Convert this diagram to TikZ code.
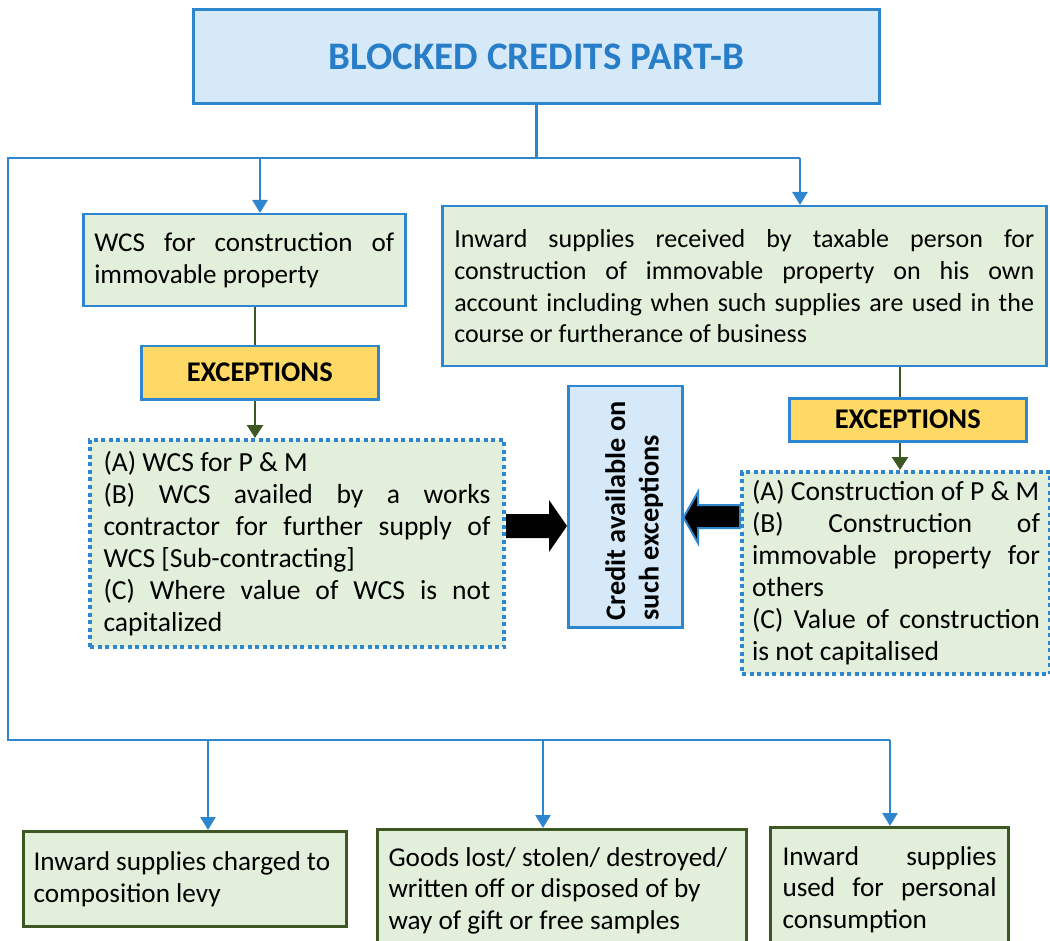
\documentclass[tikz,border=0pt]{standalone}
\usepackage{fontspec}
\setmainfont{Carlito}
\usetikzlibrary{arrows.meta,calc}
\definecolor{bblue}{RGB}{46,134,206}
\definecolor{tblue}{RGB}{40,125,200}
\definecolor{lbfill}{RGB}{214,233,248}
\definecolor{gfill}{RGB}{226,239,218}
\definecolor{yfill}{RGB}{255,217,102}
\definecolor{dgreen}{RGB}{62,88,35}
\newcommand\myBody{\fontsize{27.6}{32}\selectfont}
\newcommand\myBot{\fontsize{27.2}{31.5}\selectfont}
\newcommand\myWcs{\fontsize{27.1}{32}\selectfont}
\newcommand\myInw{\fontsize{26}{31.7}\selectfont}
\newcommand\myTitle{\fontsize{39}{46}\selectfont\bfseries}
\newcommand\myExc{\fontsize{28.5}{34}\selectfont\bfseries}
\newcommand\myCred{\fontsize{28.3}{33.5}\selectfont\bfseries}
\pgfdeclarelayer{bg}
\pgfsetlayers{bg,main}
\begin{document}
\hyphenpenalty=10000 \exhyphenpenalty=10000
\begin{tikzpicture}[x=1pt,y=-1pt,
  gbox/.style={draw=bblue, line width=2.5pt, fill=gfill, anchor=north west,
    inner ysep=0pt, font=\myBody, align=justify},
  dbox/.style={gbox, line width=4pt, dash pattern=on 4pt off 3.5pt},
  botbox/.style={gbox, draw=dgreen, line width=3pt, font=\myBot},
  ybox/.style={draw=bblue, line width=2.5pt, fill=yfill, anchor=north west,
    inner sep=0pt, font=\myExc, align=center},
  bline/.style={draw=bblue, line width=2.5pt},
  barrow/.style={bline, -{Triangle[length=13pt,width=15pt]}},
  gline/.style={draw=dgreen, line width=2.5pt},
  garrow/.style={gline, -{Triangle[length=13pt,width=16pt]}}]
\useasboundingbox (0,0) rectangle (1050,941);

% title
\node[draw=bblue, line width=3pt, fill=lbfill, anchor=north west,
  minimum width=686pt, minimum height=94pt, inner sep=0pt,
  font=\myTitle, text=tblue] (title) at (192,8) {BLOCKED CREDITS PART-B};

% upper boxes
\node[gbox, font=\myWcs, text width=300pt, inner xsep=11pt, minimum width=322pt,
  minimum height=92pt] (wcs) at (82,213)
  {WCS for construction of \linebreak immovable property};
\node[gbox, font=\myInw, text width=580pt, inner xsep=12pt, minimum width=604pt,
  minimum height=160pt] (inward) at (441,205)
  {Inward supplies received by taxable person for \linebreak construction of immovable property on his own \linebreak account including when such supplies are used in the \linebreak course or furtherance of business};

\node[ybox, minimum width=237pt, minimum height=53pt] (exc1) at (140,345) {EXCEPTIONS};
\node[ybox, minimum width=237pt, minimum height=43pt] (exc2) at (788,397) {EXCEPTIONS};

\node[dbox, text width=387pt, inner xsep=13.5pt, minimum width=414pt,
  minimum height=207pt] (dot1) at (88,438)
  {(A) WCS for P \& M\par
   (B) WCS availed by a works \linebreak contractor for further supply of \linebreak WCS [Sub-contracting]\par
   (C) Where value of WCS is not \linebreak capitalized};
\node[dbox, text width=288pt, inner xsep=10pt, minimum width=308pt,
  minimum height=202pt] (dot2) at (740,470)
  {(A) Construction of P \& M\par
   (B) Construction of \linebreak immovable property for \linebreak others\par
   (C) Value of construction \linebreak is not capitalised};

% credit box
\node[draw=bblue, line width=2.5pt, fill=lbfill, anchor=north west,
  minimum width=114pt, minimum height=241pt, inner sep=0pt] (credit) at (567,385) {};
\node[rotate=90, font=\myCred, align=left, inner sep=0pt, anchor=west] (credtxt)
  at ($(credit.south)+(9,-8)$)
  {Credit available on\\such exceptions};

% bottom boxes
\node[botbox, align=flush left, text width=303pt, inner xsep=10pt, minimum width=323pt,
  minimum height=95pt] (b1) at (22,830)
  {Inward supplies charged to\\composition levy};
\node[botbox, align=flush left, text width=347pt, inner xsep=11pt, minimum width=369pt,
  minimum height=122pt] (b2) at (376,828)
  {Goods lost/ stolen/ destroyed/\\written off or disposed of by\\way of gift or free samples};
\node[botbox, text width=214pt, inner xsep=12pt, minimum width=238pt,
  minimum height=124pt] (b3) at (769,826)
  {Inward supplies \linebreak used for personal \linebreak consumption};

% coordinates
\coordinate (cL) at (8,158);
\coordinate (cR) at (800,158);
\coordinate (cA) at (260,158);
\coordinate (bL) at (8,740);
\coordinate (bR) at (890,740);
\coordinate (b1x) at (208,740);
\coordinate (b2x) at (543,740);
\coordinate (gxl) at (255,0);
\coordinate (gxr) at (900,0);

% blue connectors
\draw[bline] (title.south) -- (title.south |- cL);
\draw[bline] (cR) -- (cL) -- (bL) -- (bR);
\draw[barrow] (cA) -- (cA |- wcs.north);
\draw[barrow] (cR) -- (cR |- inward.north);
\draw[barrow] (b1x) -- (b1x |- b1.north);
\draw[barrow] (b2x) -- (b2x |- b2.north);
\draw[barrow] (bR) -- (bR |- b3.north);

% green connectors
\draw[gline] (gxl |- wcs.south) -- (gxl |- exc1.north);
\draw[garrow] (gxl |- exc1.south) -- (gxl |- dot1.north);
\draw[gline] (gxr |- inward.south) -- (gxr |- exc2.north);
\draw[garrow] (gxr |- exc2.south) -- (gxr |- dot2.north);

% block arrows
\begin{pgfonlayer}{bg}
\fill[black] (dot1.east |- 0,514) -- (549,514) -- (549,500) -- (credit.west |- 0,526)
  -- (549,552) -- (549,538) -- (dot1.east |- 0,538) -- cycle;
\filldraw[fill=black, draw=bblue, line width=2pt, line join=miter]
  (dot2.west |- 0,505) -- (698,505) -- (698,492) -- (credit.east |- 0,517.5)
  -- (698,543) -- (698,528) -- (dot2.west |- 0,528) -- cycle;
\end{pgfonlayer}
\end{tikzpicture}
\end{document}
